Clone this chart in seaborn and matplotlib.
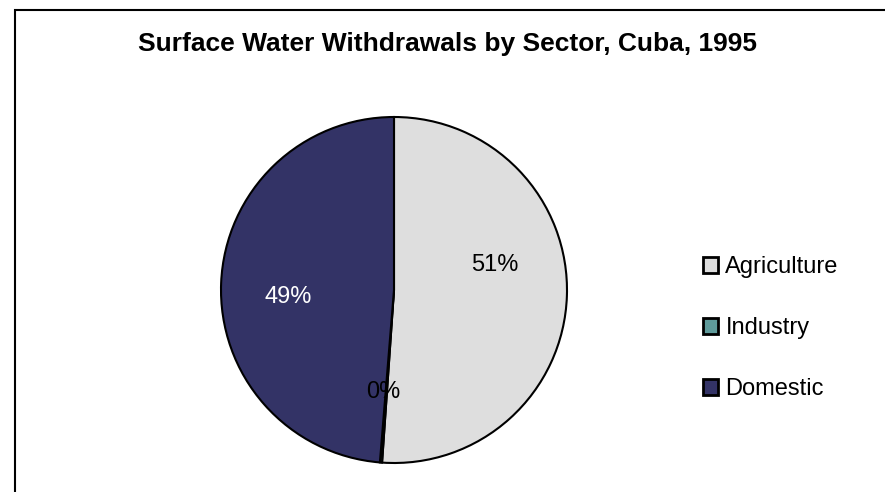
import matplotlib
matplotlib.use('Agg')
import matplotlib.pyplot as plt
from matplotlib.patches import Rectangle
import seaborn as sns

sectors = ['Agriculture', 'Industry', 'Domestic']
shares = [51.1, 0.2, 48.7]
colors = ['#dedede', '#5f9b9b', '#333366']
label_colors = ['black', 'black', 'white']
# where Excel put the percentage labels (pie radius units)
label_pos = [(0.58, 0.145), (-0.06, -0.59), (-0.61, -0.04)]

sns.set_theme(style='white')
plt.rcParams['font.family'] = ['Liberation Sans', 'DejaVu Sans']
plt.rcParams['text.color'] = 'black'

fig = plt.figure(figsize=(8.85, 4.92), dpi=100)
ax = fig.add_axes([221 / 885, 29 / 492, 346 / 885, 346 / 492])

wedges, texts, autotexts = ax.pie(
    shares, colors=colors, startangle=90, counterclock=False,
    autopct='%1.0f%%', pctdistance=0.6,
    wedgeprops={'edgecolor': 'black', 'linewidth': 1.5, 'clip_on': False},
    textprops={'fontsize': 17})
for t, c, p in zip(autotexts, label_colors, label_pos):
    t.set_color(c)
    t.set_position(p)
ax.set_xlim(-1, 1)
ax.set_ylim(-1, 1)
ax.set_aspect('equal')

fig.text(448 / 885, 1 - 44 / 492, 'Surface Water Withdrawals by Sector, Cuba, 1995',
         ha='center', va='center', fontsize=19, fontweight='bold', color='black')

leg = fig.legend(wedges, sectors, loc='center left', bbox_to_anchor=(703 / 885, 164 / 492),
                 frameon=False, fontsize=17, handlelength=0.65, handleheight=0.65,
                 handletextpad=0.3, labelspacing=1.65, borderpad=0, borderaxespad=0)
for h in leg.legend_handles:
    h.set_linewidth(2)
    h.set_edgecolor('black')
for t in leg.get_texts():
    t.set_color('black')

fig.add_artist(Rectangle((14.5 / 885, -0.1), 1.2, 1.1 - 10 / 492, transform=fig.transFigure,
                         fill=False, edgecolor='black', linewidth=1.5))

fig.savefig('out.png', dpi=100)
